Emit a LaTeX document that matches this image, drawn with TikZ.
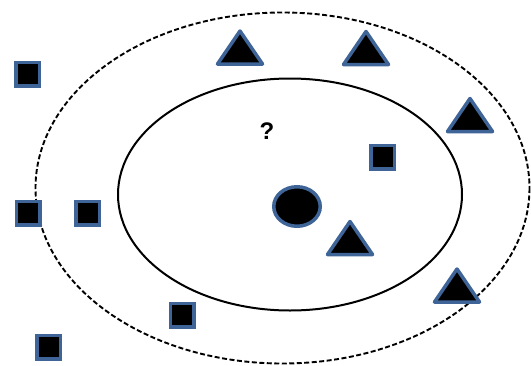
\documentclass[tikz,border=0pt]{standalone}
\usepackage{fontspec}
\setmainfont{Liberation Sans}
\definecolor{edgeblue}{RGB}{62,100,152}
\tikzset{
  sq/.style={draw=edgeblue, fill=black, line width=3.5pt, minimum size=23.5pt, inner sep=0pt, outer sep=0pt},
  dot/.style={draw=edgeblue, fill=black, line width=3.5pt, ellipse, minimum width=46.5pt, minimum height=39.5pt, inner sep=0pt},
  tri/.pic={\draw[edgeblue, fill=black, line width=3.5pt, line join=round] (0,-16.5) -- (22.5,16.5) -- (-22.5,16.5) -- cycle;},
  outerring/.style={draw, dash pattern=on 5pt off 2.5pt, line width=1.9pt},
  innerring/.style={draw, line width=2pt}
}
\usetikzlibrary{shapes.geometric}
\begin{document}
\begin{tikzpicture}[x=1pt,y=-1pt]
\useasboundingbox (0,0) rectangle (531,365);
% rings
\draw[outerring] (282.5,188) ellipse [x radius=247, y radius=175.5];
\draw[innerring] (290,194.5) ellipse [x radius=172, y radius=116];
% squares
\node[sq] (s1) at (27.5,74) {};
\node[sq] (s2) at (28,213) {};
\node[sq] (s3) at (87.5,213) {};
\node[sq] (s4) at (382.5,157) {};
\node[sq] (s5) at (182,315) {};
\node[sq] (s6) at (48.5,347) {};
% triangles
\pic (t1) at (240,47.5) {tri};
\pic (t2) at (366,48) {tri};
\pic (t3) at (470,115) {tri};
\pic (t4) at (350,238) {tri};
\pic (t5) at (457,285.5) {tri};
% query point
\node[dot] (q) at (297,206.5) {};
\node[font=\bfseries\fontsize{24}{26}\selectfont, inner sep=0pt] (qm) at (267,131) {?};
\end{tikzpicture}
\end{document}
